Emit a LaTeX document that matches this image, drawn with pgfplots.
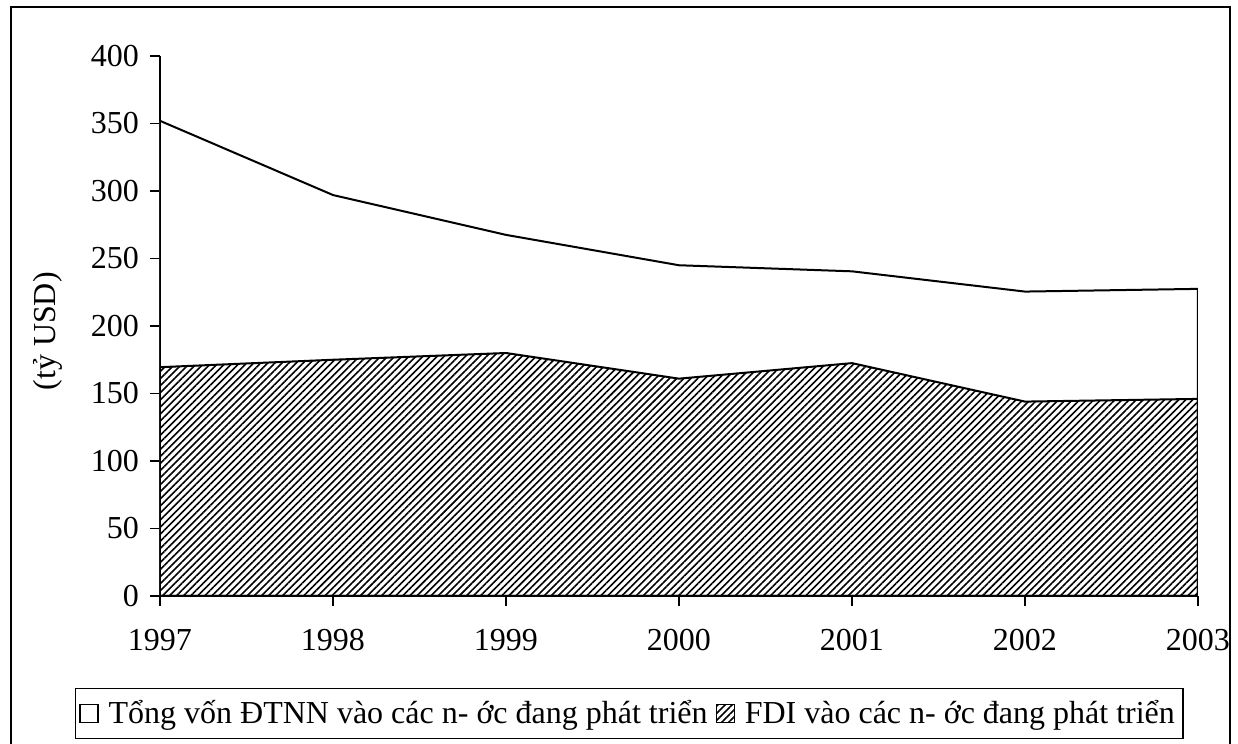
\documentclass[border=0pt]{standalone}
\usepackage{fontspec}
\setmainfont{Liberation Serif}
\usepackage{pgfplots}
\pgfplotsset{compat=1.18}
\usetikzlibrary{patterns.meta}
\begin{document}
\begin{tikzpicture}
\useasboundingbox (0,0) rectangle (619pt,372pt);
\draw[line width=0.8pt] (5.5pt,-10pt) rectangle (615pt,368.5pt);
\begin{axis}[
  at={(80pt,74pt)}, anchor=south west,
  scale only axis, width=519pt, height=270pt,
  xmin=1997, xmax=2003, ymin=0, ymax=400,
  enlargelimits=false,
  axis lines=left, axis line style={-, line width=0.8pt},
  xtick={1997,...,2003}, ytick={0,50,...,400},
  tick align=outside, major tick length=5pt,
  tick style={line width=0.8pt, black},
  xticklabel style={/pgf/number format/set thousands separator={}, yshift=-8pt},
  yticklabel style={xshift=-2pt},
  /pgf/number format/assume math mode=true,
  tick label style={font=\fontsize{16}{19}\selectfont},
  ylabel={(tỷ USD)},
  ylabel style={font=\fontsize{16}{19}\selectfont, at={(axis description cs:-0.108,0.49)}, anchor=center, rotate=0},
  legend style={at={(axis description cs:0.452,-0.2176)}, anchor=center, draw=black, line width=0.8pt,
    font=\fontsize{16}{19}\selectfont, legend columns=2, inner xsep=2pt, inner ysep=4pt,
    /tikz/every even column/.append style={column sep=2pt},
    /tikz/every odd column/.append style={column sep=3pt}},
  legend cell align=left,
  legend image code/.code={\draw[#1, line width=0.6pt] (0pt,-4.5pt) rectangle (9pt,4.5pt);},
]
\addplot[fill=white, draw=black, line width=1pt] coordinates {
 (1997,352) (1998,297) (1999,267.5) (2000,245) (2001,240.5) (2002,225.5) (2003,227.5)
} |- (axis cs:1997,0) -- cycle;
\addlegendentry{Tổng vốn ĐTNN vào các n- ớc đang phát triển}
\addplot[pattern={Lines[angle=45,distance=2.5pt,line width=0.8pt]}, draw=black, line width=1pt] coordinates {
 (1997,169.5) (1998,175) (1999,180) (2000,161) (2001,172.5) (2002,144) (2003,146)
} |- (axis cs:1997,0) -- cycle;
\addlegendentry{FDI vào các n- ớc đang phát triển}
\end{axis}
\end{tikzpicture}
\end{document}
